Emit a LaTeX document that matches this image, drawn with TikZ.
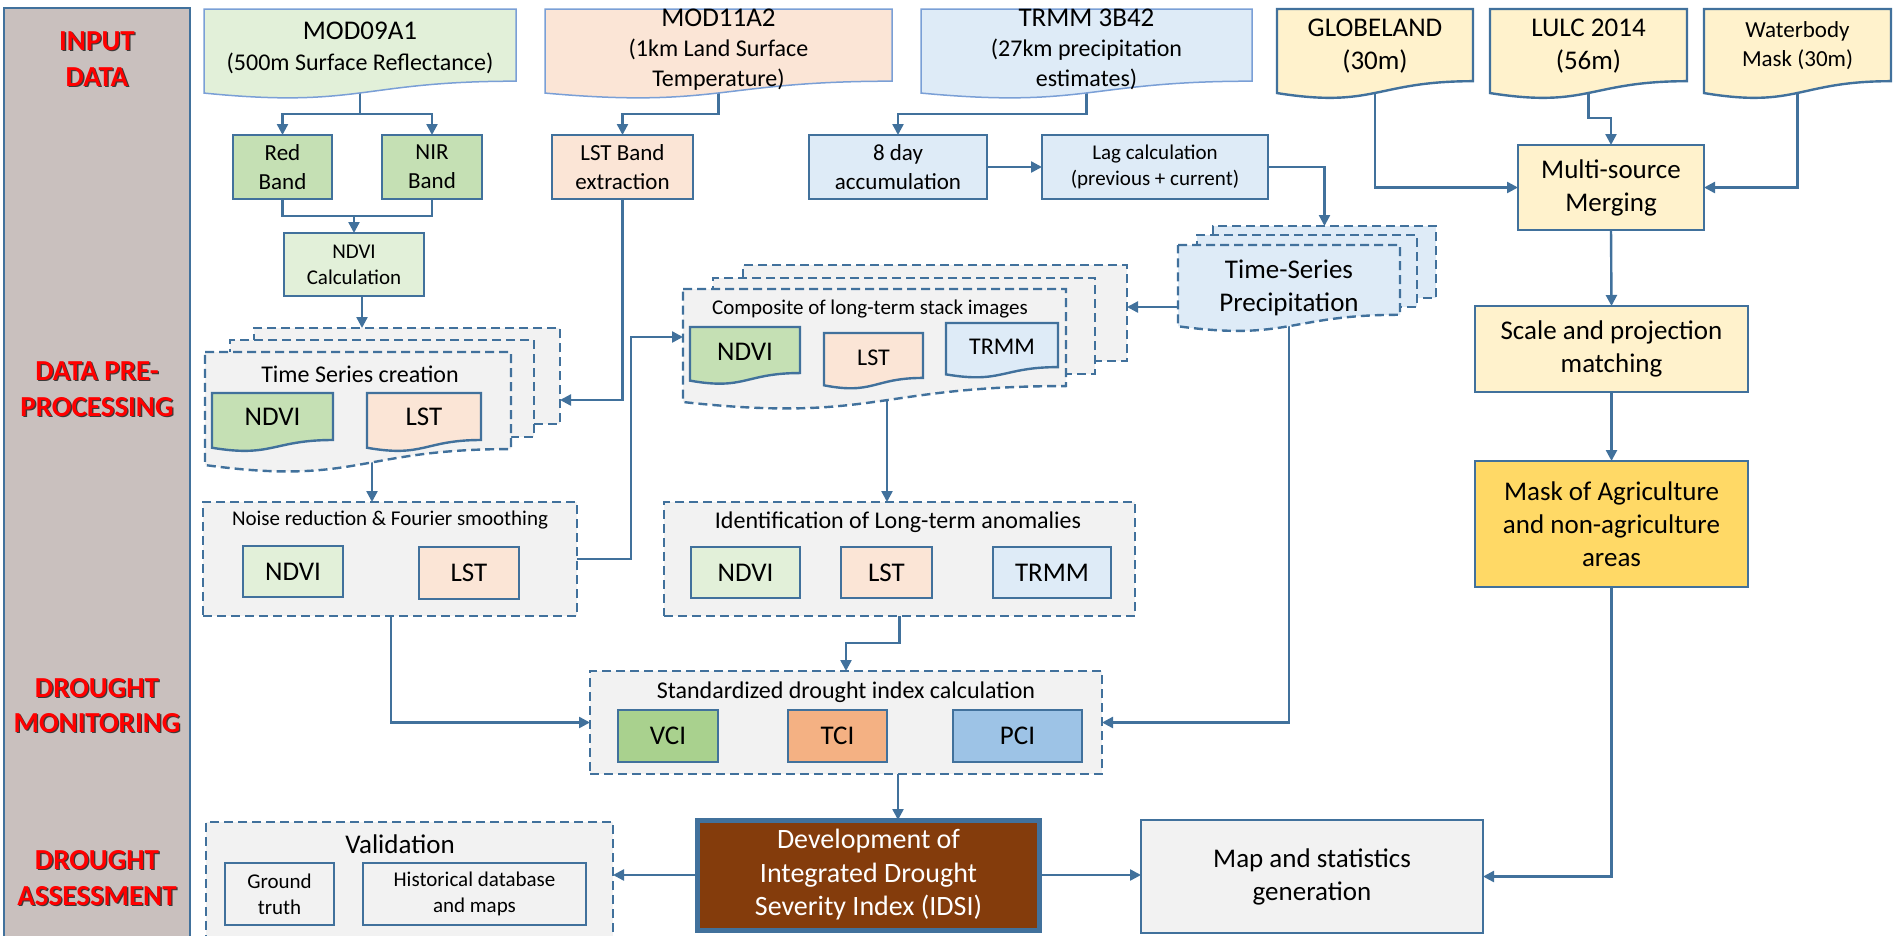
\documentclass[tikz,border=0pt]{standalone}
\usepackage{fontspec}
\setmainfont{Carlito}
\usetikzlibrary{arrows.meta,calc}
\pgfdeclarelayer{under}\pgfdeclarelayer{back}\pgfdeclarelayer{mid}
\pgfsetlayers{under,back,mid,main}
\definecolor{edge}{HTML}{41719C}
\definecolor{ledge}{HTML}{7A9FD6}
\definecolor{gfill}{HTML}{E2F0D9}
\definecolor{gmid}{HTML}{C5E0B4}
\definecolor{gdark}{HTML}{A9D18E}
\definecolor{ofill}{HTML}{FBE5D6}
\definecolor{odark}{HTML}{F4B183}
\definecolor{bfill}{HTML}{DEEBF7}
\definecolor{bdark}{HTML}{9DC3E6}
\definecolor{yfill}{HTML}{FFF2CC}
\definecolor{ydark}{HTML}{FFD966}
\definecolor{grayf}{HTML}{F2F2F2}
\definecolor{bandc}{HTML}{C9C0BE}
\definecolor{brownc}{HTML}{843C0C}
\definecolor{lred}{HTML}{FF0000}
\definecolor{shad}{HTML}{3A3A3A}
% document shape drawn from a node's top edge; #3 = full height
\newcommand\docpath[4]{%
\begin{pgfonlayer}{#1}
\path[#4] (#2.north west) -- (#2.north east) -- ($(#2.north east)+(0,0.802*#3)$)
 .. controls ($(#2.north)+(0,0.802*#3)$) and ($(#2.north)+(0,1.107*#3)$) .. ($(#2.north west)+(0,0.934*#3)$) -- cycle;
\end{pgfonlayer}}
\newcommand\toptxt[1]{{\fontsize{27}{30}\selectfont #1}}
\tikzset{
 box/.style={draw=edge, line width=2.4pt, inner sep=0pt, outer sep=0pt, align=center},
 cont/.style={draw=edge, line width=2.4pt, dash pattern=on 9pt off 5pt, fill=grayf, inner sep=0pt, outer sep=0pt},
 dashd/.style={draw=edge, line width=2.4pt, dash pattern=on 9pt off 5pt},
 docn/.style={inner sep=0pt, outer sep=0pt, align=center, anchor=north},
 arr/.style={draw=edge, line width=2.4pt, -{Triangle[length=11pt,width=11pt]}},
 ln/.style={draw=edge, line width=2.4pt},
 f27/.style={font=\fontsize{27}{33}\selectfont},
 f24/.style={font=\fontsize{24}{30}\selectfont},
 f24b/.style={font=\fontsize{24}{31}\selectfont},
 f23/.style={font=\fontsize{23}{29}\selectfont},
 f21/.style={font=\fontsize{21}{26}\selectfont},
 lab/.style={font=\bfseries\fontsize{29}{34}\selectfont, text=lred},
 labsh/.style={font=\bfseries\fontsize{29}{34}\selectfont, text=shad},
}
\begin{document}
\begin{tikzpicture}[x=1pt,y=-1pt]
\useasboundingbox (0,0) rectangle (1895,935);
% left band
\node[draw=edge, line width=2pt, fill=bandc, minimum width=186pt, minimum height=940pt, anchor=north west, inner sep=0pt, outer sep=0pt] (bandn) at (4,8) {};
\foreach \t/\y [count=\i] in {INPUT/41, DATA/77, DATA PRE-/371, PROCESSING/407, DROUGHT/688, MONITORING/723, DROUGHT/860, ASSESSMENT/896}{
 \node[labsh] (ls\i) at (98.3,\y+1.3) {\t};
 \node[lab] (lt\i) at (97,\y) {\t};
}
% helper coordinates
\coordinate (x362) at (362,0); \coordinate (x372) at (372,0); \coordinate (x887) at (887,0);
\coordinate (x391) at (391,0); \coordinate (x898) at (898,0);
\coordinate (y400) at (0,400); \coordinate (y307) at (0,307); \coordinate (y337) at (0,337);

% ---------- input documents
\node[docn, f24b, minimum width=312pt, minimum height=77pt] (mod09) at (360,9)
 {\toptxt{MOD09A1}\\(500m Surface Reflectance)};
\docpath{back}{mod09}{90}{fill=gfill, draw=ledge, line width=1.5pt}
\node[docn, f24, minimum width=347pt, minimum height=76pt] (mod11) at (718.5,9)
 {\toptxt{MOD11A2}\\(1km Land Surface\\Temperature)};
\docpath{back}{mod11}{90}{fill=ofill, draw=ledge, line width=1.5pt}
\node[docn, f24, minimum width=331pt, minimum height=76pt] (trmm) at (1086.5,9)
 {\toptxt{TRMM 3B42}\\(27km precipitation\\estimates)};
\docpath{back}{trmm}{90}{fill=bfill, draw=ledge, line width=1.5pt}
\node[docn, f27, minimum width=196pt, minimum height=74pt] (globe) at (1375,9) {GLOBELAND\\(30m)};
\docpath{back}{globe}{90}{fill=yfill, draw=edge, line width=2.4pt}
\node[docn, f27, minimum width=197pt, minimum height=74pt] (lulc) at (1588.5,9) {LULC 2014\\(56m)};
\docpath{back}{lulc}{90}{fill=yfill, draw=edge, line width=2.4pt}
\node[docn, f23, minimum width=187pt, minimum height=73pt] (water) at (1797.5,9) {Waterbody\\Mask (30m)};
\docpath{back}{water}{90}{fill=yfill, draw=edge, line width=2.4pt}

% ---------- second row
\node[box, fill=gmid, f23, minimum width=99pt, minimum height=64pt] (red) at (282.5,167) {Red\\Band};
\node[box, fill=gmid, f23, minimum width=100pt, minimum height=64pt] (nir) at (432,167) {NIR\\Band};
\node[box, fill=gfill, f21, minimum width=140pt, minimum height=63pt] (ndvic) at (354,264.5) {NDVI\\Calculation};
\node[box, fill=ofill, f23, minimum width=141pt, minimum height=64pt] (lstb) at (622.5,167) {LST Band\\extraction};
\node[box, fill=bfill, f23, minimum width=178pt, minimum height=64pt] (acc8) at (898,167) {8 day\\accumulation};
\node[box, fill=bfill, f21, minimum width=226pt, minimum height=64pt] (lag) at (1155,167) {Lag calculation\\(previous + current)};
\node[box, fill=yfill, f27, minimum width=186pt, minimum height=85pt] (merge) at (1611,187.5) {Multi-source\\Merging};
\node[box, fill=yfill, f27, minimum width=273pt, minimum height=86pt] (scale) at (1611.5,349) {Scale and projection\\matching};
\node[box, fill=ydark, f27, minimum width=273pt, minimum height=126pt] (mask) at (1611.5,524) {Mask of Agriculture\\and non-agriculture\\areas};

% ---------- Time Series creation stack
\begin{pgfonlayer}{back}
\node[cont, minimum width=306pt, minimum height=96pt] (tscB) at (407,376) {};
\node[cont, minimum width=304pt, minimum height=97pt] (tscM) at (382,388.5) {};
\end{pgfonlayer}
\node[docn, minimum width=306pt, minimum height=100pt] (tsc) at (358,352) {};
\docpath{back}{tsc}{121}{fill=grayf, dashd}
\node[f24] (tscT) at (360,374) {Time Series creation};
\node[docn, f27, minimum width=121pt, minimum height=48pt] (tsN) at (272.5,393) {NDVI};
\docpath{mid}{tsN}{58.6}{fill=gmid, draw=edge, line width=2.4pt}
\node[docn, f27, minimum width=114pt, minimum height=48pt] (tsL) at (424,393) {LST};
\docpath{mid}{tsL}{58.6}{fill=ofill, draw=edge, line width=2.4pt}

% ---------- Composite stack
\begin{pgfonlayer}{back}
\node[cont, minimum width=384pt, minimum height=96pt] (compB) at (935,313) {};
\node[cont, minimum width=382pt, minimum height=96pt] (compM) at (904,326) {};
\end{pgfonlayer}
\node[docn, minimum width=383pt, minimum height=100pt] (comp) at (874.5,289) {};
\docpath{back}{comp}{121}{fill=grayf, dashd}
\node[f21] (compT) at (870,309) {Composite of long-term stack images};
\node[docn, f27, minimum width=110pt, minimum height=50pt] (cN) at (745,327) {NDVI};
\docpath{mid}{cN}{57.4}{fill=gmid, draw=edge, line width=2.4pt}
\node[docn, f24, minimum width=99pt, minimum height=50pt] (cL) at (873.5,333) {LST};
\docpath{mid}{cL}{56}{fill=ofill, draw=edge, line width=2.4pt}
\node[docn, f24, minimum width=112pt, minimum height=48pt] (cT) at (1002,323) {TRMM};
\docpath{mid}{cT}{55}{fill=bfill, draw=edge, line width=2.4pt}

% ---------- Time-Series Precipitation stack
\begin{pgfonlayer}{back}
\node[cont, fill=bfill, minimum width=223pt, minimum height=72pt] (tspB) at (1324.5,262) {};
\node[cont, fill=bfill, minimum width=220pt, minimum height=72pt] (tspM) at (1307,271) {};
\end{pgfonlayer}
\node[docn, f27, minimum width=222pt, minimum height=85pt] (tsp) at (1289,245) {Time-Series\\Precipitation};
\docpath{back}{tsp}{87}{fill=bfill, dashd}

% ---------- Noise reduction
\node[cont, minimum width=374pt, minimum height=114pt] (noise) at (390,559) {};
\node[f21] (noiseT) at (390,520) {Noise reduction \& Fourier smoothing};
\node[box, fill=gfill, f27, minimum width=100pt, minimum height=51pt] (nN) at (293,571.5) {NDVI};
\node[box, fill=ofill, f27, minimum width=100pt, minimum height=52pt] (nL) at (469,573) {LST};

% ---------- Identification
\node[cont, minimum width=471pt, minimum height=114pt] (ident) at (899.5,559) {};
\node[f24] (identT) at (898,522) {Identification of Long-term anomalies};
\node[box, fill=gfill, f27, minimum width=109pt, minimum height=51pt] (iN) at (745.5,572.5) {NDVI};
\node[box, fill=ofill, f27, minimum width=91pt, minimum height=51pt] (iL) at (886.5,572.5) {LST};
\node[box, fill=bfill, f27, minimum width=118pt, minimum height=51pt] (iT) at (1052,572.5) {TRMM};

% ---------- Standardized drought index
\node[cont, minimum width=512pt, minimum height=103pt] (std) at (846,722.5) {};
\node[f24] (stdT) at (846,692) {Standardized drought index calculation};
\node[box, fill=gdark, f27, minimum width=100pt, minimum height=52pt] (vci) at (668,736) {VCI};
\node[box, fill=odark, f27, minimum width=99pt, minimum height=52pt] (tci) at (837.5,736) {TCI};
\node[box, fill=bdark, f27, minimum width=129pt, minimum height=52pt] (pci) at (1017.5,736) {PCI};

% ---------- bottom row
\node[box, draw=edge, line width=5pt, fill=brownc, text=white, font=\fontsize{28}{33.5}\selectfont, minimum width=342pt, minimum height=110pt] (idsi) at (868.5,875) {Development of\\Integrated Drought\\Severity Index (IDSI)};
\node[cont, minimum width=407pt, minimum height=123pt] (valid) at (409.5,883.5) {};
\node[f27] (validT) at (400,844) {Validation};
\node[box, fill=grayf, f21, minimum width=109pt, minimum height=62pt] (gt) at (279.5,894) {Ground\\truth};
\node[box, fill=grayf, f21, minimum width=223pt, minimum height=62pt] (hist) at (474.5,894) {Historical database\\and maps};
\node[box, fill=grayf, f27, minimum width=342pt, minimum height=113pt] (map) at (1312,876.5) {Map and statistics\\generation};

% ---------- connectors
\begin{pgfonlayer}{under}
\draw[arr] (mod09.center) -- (360,114) -| (red.north);
\draw[arr] (mod09.center) -- (360,114) -| (nir.north);
\draw[ln] (red.south) |- (354,216) -| (nir.south);
\draw[arr] (354,216) -- (ndvic.north);
\draw[arr] (ndvic.south -| x362) -- (tscB.north -| x362);
\draw[arr] (mod11.center) -- (718.5,114) -| (lstb.north);
\draw[arr] (lstb.south) |- (tscB.east |- y400);
\draw[arr] (trmm.center) -- (1086.5,114) -| (acc8.north);
\draw[arr] (acc8.east) -- (lag.west);
\draw[arr] (lag.east) -| (tspB.north);
\draw[arr] (tsp.center |- y307) -- (compB.east |- y307);
\draw[arr] (tsp.center) |- (std.east);
\draw[arr] (globe.center) |- (merge.west);
\draw[arr] (lulc.center) -- (1588.5,118) -| (merge.north);
\draw[arr] (water.center) |- (merge.east);
\draw[arr] (merge.south) -- (scale.north);
\draw[arr] (scale.south) -- (mask.north);
\draw[arr] (mask.south) |- (map.east);
\draw[arr] (tsc.center -| x372) -- (noise.north -| x372);
\draw[arr] (noise.east) -- (631,559) -- (631,337) -- (comp.west |- y337);
\draw[arr] (comp.center -| x887) -- (ident.north -| x887);
\draw[arr] (noise.south -| x391) |- (std.west);
\draw[arr] (ident.south) -- (899.5,643) -| (std.north);
\draw[arr] (std.south -| x898) -- (idsi.north -| x898);
\draw[arr] (idsi.west) -- (valid.east |- idsi.west);
\draw[arr] (idsi.east) -- (map.west |- idsi.east);
\end{pgfonlayer}
\end{tikzpicture}
\end{document}
